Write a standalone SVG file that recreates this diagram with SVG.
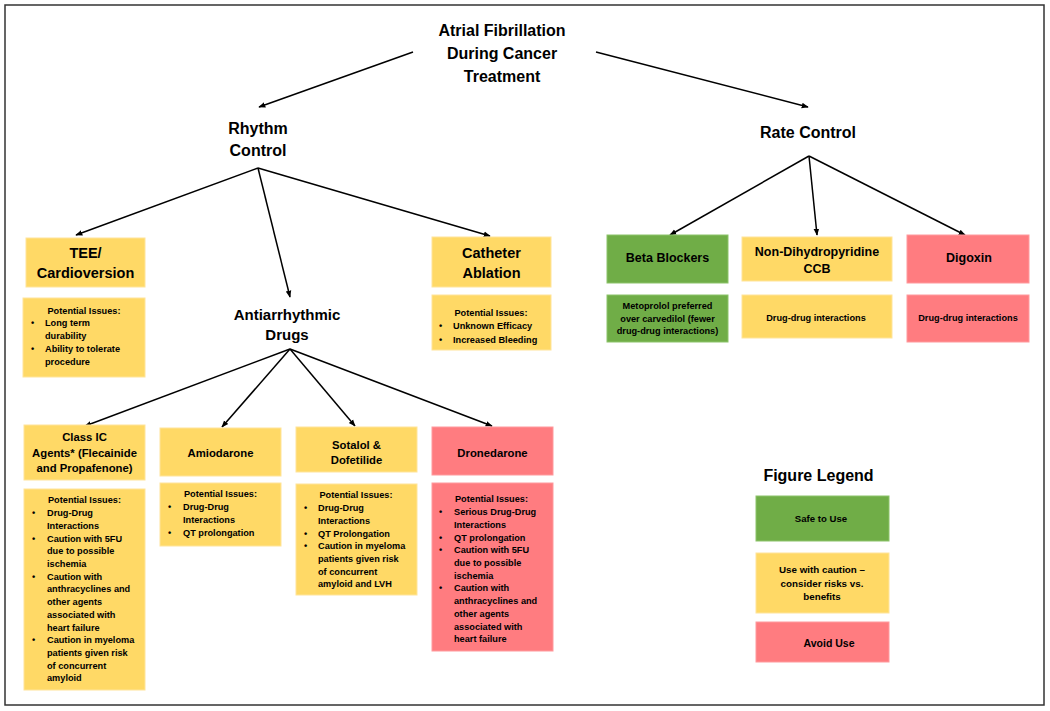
<svg xmlns="http://www.w3.org/2000/svg" width="1050" height="711" viewBox="0 0 1050 711">
<defs>
<marker id="ah" viewBox="0 0 10 10" refX="9" refY="5" markerWidth="7" markerHeight="7" markerUnits="userSpaceOnUse" orient="auto">
<path d="M0,1 L10,5 L0,9 Z" fill="#000"/>
</marker>
<style>
text{font-family:"Liberation Sans",Arial,sans-serif;font-weight:bold;fill:#000}
.c{text-anchor:middle}
.h1{font-size:16px}
.h2{font-size:14.5px}
.h3{font-size:12.5px}
.h4{font-size:11.3px}
.s{font-size:9.2px}
.y{fill:#FFD966;stroke:#FFE49A;stroke-width:1}
.g{fill:#70AD47;stroke:#8CC36A;stroke-width:1}
.r{fill:#FF7C80;stroke:#FF9A9D;stroke-width:1}
.ln{stroke:#000;stroke-width:1.5;fill:none;marker-end:url(#ah)}
</style>
</defs>
<rect width="1050" height="711" fill="#fff"/>
<rect x="5" y="5" width="1039" height="700" fill="none" stroke="#333" stroke-width="1.5"/>

<g id="connectors">
<line class="ln" x1="413" y1="52" x2="259" y2="107"/>
<line class="ln" x1="596" y1="52" x2="808" y2="107"/>
<line class="ln" x1="258" y1="168" x2="76" y2="235"/>
<line class="ln" x1="258" y1="168" x2="290" y2="297"/>
<line class="ln" x1="258" y1="168" x2="490" y2="236"/>
<line class="ln" x1="809" y1="156" x2="670" y2="235"/>
<line class="ln" x1="809" y1="156" x2="817" y2="235"/>
<line class="ln" x1="809" y1="156" x2="965" y2="235"/>
<line class="ln" x1="290" y1="349" x2="85" y2="426"/>
<line class="ln" x1="290" y1="349" x2="222" y2="427"/>
<line class="ln" x1="290" y1="349" x2="355" y2="426"/>
<line class="ln" x1="290" y1="349" x2="492" y2="426"/>
</g>

<g id="title">
<text class="c h1" x="502" y="36">Atrial Fibrillation</text>
<text class="c h1" x="502" y="59">During Cancer</text>
<text class="c h1" x="502" y="82">Treatment</text>
</g>

<g id="rhythm-control">
<text class="c h1" x="258" y="134">Rhythm</text>
<text class="c h1" x="258" y="156">Control</text>
</g>

<g id="rate-control">
<text class="c h1" x="808" y="138">Rate Control</text>
</g>

<g id="tee">
<rect class="y" x="26" y="238" width="119" height="49"/>
<text class="c h2" x="85.5" y="258">TEE/</text>
<text class="c h2" x="85.5" y="278">Cardioversion</text>
</g>
<g id="tee-issues">
<rect class="y" x="23" y="298" width="122" height="79"/>
<text class="c s" x="84" y="313.5">Potential Issues:</text>
<text class="s" x="31" y="326.3">•</text><text class="s" x="45" y="326.3">Long term</text>
<text class="s" x="45" y="339.3">durability</text>
<text class="s" x="31" y="352.3">•</text><text class="s" x="45" y="352.3">Ability to tolerate</text>
<text class="s" x="45" y="365.3">procedure</text>
</g>

<g id="antiarrhythmic">
<text class="c h1" x="287" y="320" style="font-size:15px">Antiarrhythmic</text>
<text class="c h1" x="287" y="340" style="font-size:15px">Drugs</text>
</g>

<g id="catheter">
<rect class="y" x="432" y="237" width="119" height="50"/>
<text class="c h2" x="491.5" y="258">Catheter</text>
<text class="c h2" x="491.5" y="278">Ablation</text>
</g>
<g id="catheter-issues">
<rect class="y" x="432" y="295" width="119" height="55"/>
<text class="c s" x="491" y="316">Potential Issues:</text>
<text class="s" x="439" y="329.3">•</text><text class="s" x="453" y="329.3">Unknown Efficacy</text>
<text class="s" x="439" y="343">•</text><text class="s" x="453" y="343">Increased Bleeding</text>
</g>

<g id="beta">
<rect class="g" x="607" y="235" width="121" height="48"/>
<text class="c h3" x="667.5" y="261.5">Beta Blockers</text>
</g>
<g id="beta-issues">
<rect class="g" x="607" y="295" width="121" height="47"/>
<text class="c s" x="667.5" y="309.3">Metoprolol preferred</text>
<text class="c s" x="667.5" y="321.8">over carvedilol (fewer</text>
<text class="c s" x="667.5" y="334.3">drug-drug interactions)</text>
</g>

<g id="nondhp">
<rect class="y" x="742" y="237" width="150" height="44"/>
<text class="c h3" x="817" y="255.5">Non-Dihydropyridine</text>
<text class="c h3" x="817" y="272.5">CCB</text>
</g>
<g id="nondhp-issues">
<rect class="y" x="742" y="295" width="150" height="43"/>
<text class="c s" x="816" y="321.3">Drug-drug interactions</text>
</g>

<g id="digoxin">
<rect class="r" x="907" y="235" width="122" height="48"/>
<text class="c h3" x="969" y="261.5">Digoxin</text>
</g>
<g id="digoxin-issues">
<rect class="r" x="907" y="295" width="122" height="47"/>
<text class="c s" x="968" y="321.3">Drug-drug interactions</text>
</g>

<g id="classic">
<rect class="y" x="24" y="425" width="121" height="55"/>
<text class="c h4" x="84.5" y="441">Class IC</text>
<text class="c h4" x="84.5" y="457">Agents* (Flecainide</text>
<text class="c h4" x="84.5" y="472">and Propafenone)</text>
</g>
<g id="classic-issues">
<rect class="y" x="24" y="489" width="121" height="201"/>
<text class="c s" x="84.5" y="503.3">Potential Issues:</text>
<text class="s" x="32" y="516.2">•</text><text class="s" x="47" y="516.2">Drug-Drug</text>
<text class="s" x="47" y="528.9">Interactions</text>
<text class="s" x="32" y="541.6">•</text><text class="s" x="47" y="541.6">Caution with 5FU</text>
<text class="s" x="47" y="554.3">due to possible</text>
<text class="s" x="47" y="567">ischemia</text>
<text class="s" x="32" y="579.7">•</text><text class="s" x="47" y="579.7">Caution with</text>
<text class="s" x="47" y="592.4">anthracyclines and</text>
<text class="s" x="47" y="605.1">other agents</text>
<text class="s" x="47" y="617.8">associated with</text>
<text class="s" x="47" y="630.5">heart failure</text>
<text class="s" x="32" y="643.2">•</text><text class="s" x="47" y="643.2">Caution in myeloma</text>
<text class="s" x="47" y="655.9">patients given risk</text>
<text class="s" x="47" y="668.6">of concurrent</text>
<text class="s" x="47" y="681.3">amyloid</text>
</g>

<g id="amiodarone">
<rect class="y" x="160" y="428" width="121" height="48"/>
<text class="c h4" x="220.5" y="457">Amiodarone</text>
</g>
<g id="amiodarone-issues">
<rect class="y" x="160" y="483" width="121" height="63"/>
<text class="c s" x="220.5" y="497.3">Potential Issues:</text>
<text class="s" x="168" y="510.2">•</text><text class="s" x="183" y="510.2">Drug-Drug</text>
<text class="s" x="183" y="522.9">Interactions</text>
<text class="s" x="168" y="535.6">•</text><text class="s" x="183" y="535.6">QT prolongation</text>
</g>

<g id="sotalol">
<rect class="y" x="296" y="427" width="121" height="45"/>
<text class="c h4" x="356.5" y="449">Sotalol &amp;</text>
<text class="c h4" x="356.5" y="464">Dofetilide</text>
</g>
<g id="sotalol-issues">
<rect class="y" x="296" y="484" width="121" height="111"/>
<text class="c s" x="356" y="498.3">Potential Issues:</text>
<text class="s" x="304" y="511.2">•</text><text class="s" x="318" y="511.2">Drug-Drug</text>
<text class="s" x="318" y="523.9">Interactions</text>
<text class="s" x="304" y="536.6">•</text><text class="s" x="318" y="536.6">QT Prolongation</text>
<text class="s" x="304" y="549.3">•</text><text class="s" x="318" y="549.3">Caution in myeloma</text>
<text class="s" x="318" y="562">patients given risk</text>
<text class="s" x="318" y="574.7">of concurrent</text>
<text class="s" x="318" y="587.4">amyloid and LVH</text>
</g>

<g id="dronedarone">
<rect class="r" x="432" y="427" width="121" height="48"/>
<text class="c h4" x="492.5" y="457">Dronedarone</text>
</g>
<g id="dronedarone-issues">
<rect class="r" x="432" y="483" width="121" height="168"/>
<text class="c s" x="491.5" y="502.3">Potential Issues:</text>
<text class="s" x="439" y="515.2">•</text><text class="s" x="454" y="515.2">Serious Drug-Drug</text>
<text class="s" x="454" y="527.9">Interactions</text>
<text class="s" x="439" y="540.6">•</text><text class="s" x="454" y="540.6">QT prolongation</text>
<text class="s" x="439" y="553.3">•</text><text class="s" x="454" y="553.3">Caution with 5FU</text>
<text class="s" x="454" y="566">due to possible</text>
<text class="s" x="454" y="578.7">ischemia</text>
<text class="s" x="439" y="591.4">•</text><text class="s" x="454" y="591.4">Caution with</text>
<text class="s" x="454" y="604.1">anthracyclines and</text>
<text class="s" x="454" y="616.8">other agents</text>
<text class="s" x="454" y="629.5">associated with</text>
<text class="s" x="454" y="642.2">heart failure</text>
</g>

<g id="legend">
<text class="c h1" x="818.5" y="481">Figure Legend</text>
<rect class="g" x="756" y="496" width="133" height="45"/>
<text class="c" x="821" y="521.5" style="font-size:9.6px">Safe to Use</text>
<rect class="y" x="756" y="553" width="133" height="60"/>
<text class="c" x="822" y="572.5" style="font-size:9.8px">Use with caution –</text>
<text class="c" x="822" y="586.5" style="font-size:9.8px">consider risks vs.</text>
<text class="c" x="822" y="599.5" style="font-size:9.8px">benefits</text>
<rect class="r" x="756" y="622" width="133" height="40"/>
<text class="c" x="829" y="646.5" style="font-size:10.5px">Avoid Use</text>
</g>
</svg>
